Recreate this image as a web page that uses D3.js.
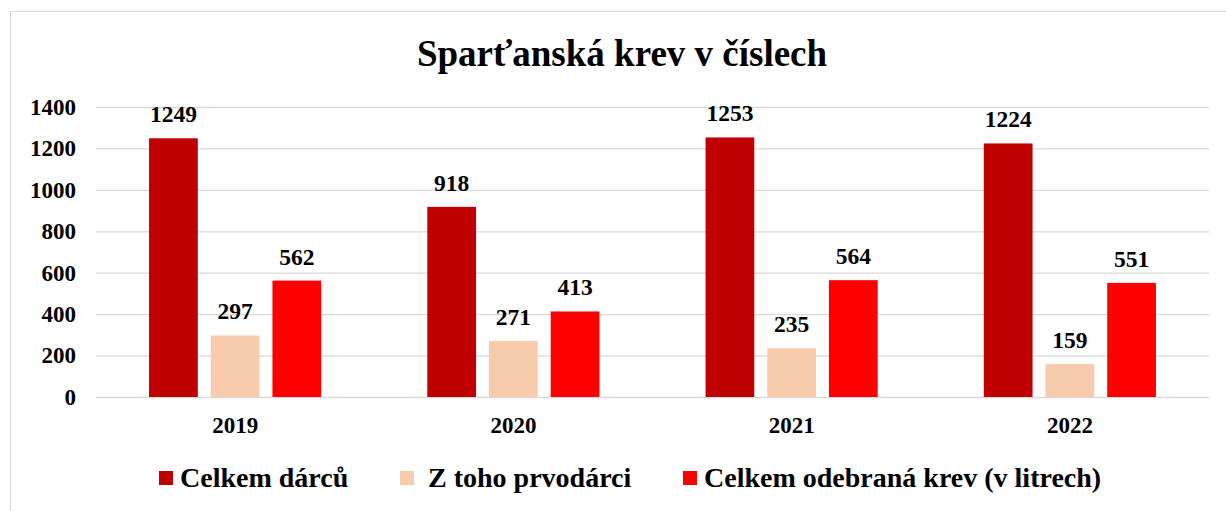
<!DOCTYPE html>
<html>
<head>
<meta charset="utf-8">
<script src="https://cdn.jsdelivr.net/npm/d3@7"></script>
<style>
  body { margin: 0; background: #fff; }
  text { font-family: "Liberation Serif", "Times New Roman", serif; font-weight: bold; fill: #000; }
</style>
</head>
<body>
<div id="chart"></div>
<script>
var years = ["2019", "2020", "2021", "2022"];
var seriesNames = ["Celkem dárců", "Z toho prvodárci", "Celkem odebraná krev (v litrech)"];
var celkemDarcu = [1249, 918, 1253, 1224];
var prvodarci = [297, 271, 235, 159];
var krevLitry = [562, 413, 564, 551];
var yTicks = [0, 200, 400, 600, 800, 1000, 1200, 1400];
var colors = ["#C00000", "#F8CBAD", "#FF0000"];

var width = 1226, height = 511;
var svg = d3.select("#chart").append("svg")
    .attr("width", width)
    .attr("height", height);

// outer frame
svg.append("rect")
    .attr("x", 10.5).attr("y", 11.5)
    .attr("width", 1240).attr("height", 520)
    .attr("fill", "none")
    .attr("stroke", "#d9d9d9");

svg.append("text")
    .attr("x", 622).attr("y", 66)
    .attr("text-anchor", "middle")
    .attr("font-size", 37)
    .text("Sparťanská krev v číslech");

var plotL = 96, plotR = 1209, plotT = 107, plotB = 397;

var y = d3.scaleLinear().domain([0, 1400]).range([plotB, plotT]);
var x0 = d3.scaleBand().domain(years).range([plotL, plotR]);
var x1 = d3.scaleBand().domain([0, 1, 2])
    .range([0, x0.bandwidth()])
    .paddingInner(0.21)
    .paddingOuter(0.86);

// grid
svg.append("g").selectAll("line")
    .data(yTicks)
    .enter().append("line")
    .attr("x1", plotL).attr("x2", plotR)
    .attr("y1", d => y(d) + 0.5).attr("y2", d => y(d) + 0.5)
    .attr("stroke", "#d9d9d9")
    .attr("stroke-width", 1.3);

var yAxis = svg.append("g")
    .attr("transform", "translate(" + 76 + ",0)")
    .call(d3.axisLeft(y).tickValues(yTicks).tickFormat(d3.format("d")).tickSize(0).tickPadding(0));
yAxis.select(".domain").remove();
yAxis.selectAll("text")
    .attr("font-size", 23)
    .attr("fill", "#000");

var xAxis = svg.append("g")
    .attr("transform", "translate(0," + plotB + ")")
    .call(d3.axisBottom(x0).tickSize(0).tickPadding(20));
xAxis.select(".domain").remove();
xAxis.selectAll("text")
    .attr("font-size", 23)
    .attr("fill", "#000");

var series = [celkemDarcu, prvodarci, krevLitry];
var rows = [];
years.forEach(function (yr, i) {
    series.forEach(function (s, j) {
        rows.push({ year: yr, k: j, v: s[i] });
    });
});

var bars = svg.append("g");
bars.selectAll("rect")
    .data(rows)
    .enter().append("rect")
    .attr("x", d => x0(d.year) + x1(d.k))
    .attr("y", d => y(d.v))
    .attr("width", x1.bandwidth())
    .attr("height", d => y(0) - y(d.v))
    .attr("fill", d => colors[d.k]);

bars.selectAll("text")
    .data(rows)
    .enter().append("text")
    .attr("x", d => x0(d.year) + x1(d.k) + x1.bandwidth() / 2)
    .attr("y", d => y(d.v) - 16)
    .attr("text-anchor", "middle")
    .attr("font-size", 23.5)
    .text(d => d.v);

// legend
var legendX = [159, 400, 683];
var lg = svg.append("g").selectAll("g")
    .data(seriesNames)
    .enter().append("g")
    .attr("transform", (d, i) => "translate(" + legendX[i] + ",471)");
lg.append("rect")
    .attr("width", 14).attr("height", 14)
    .attr("fill", (d, i) => colors[i]);
lg.append("text")
    .attr("x", (d, i) => i == 1 ? 28 : 21).attr("y", 16)
    .attr("font-size", 28)
    .text(d => d);
</script>
</body>
</html>
